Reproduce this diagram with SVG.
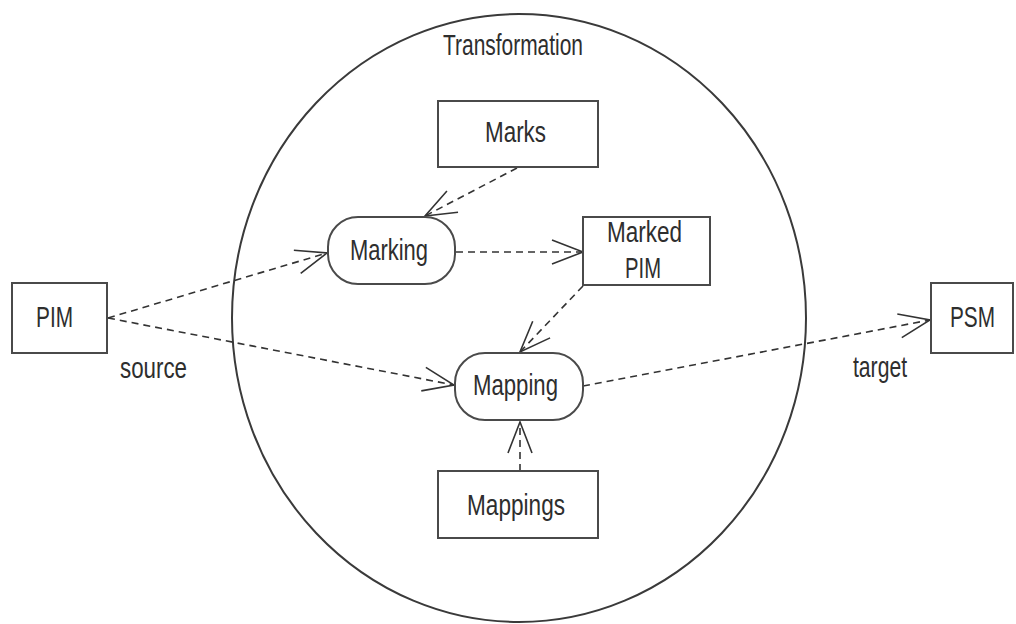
<svg xmlns="http://www.w3.org/2000/svg" width="1016" height="624" viewBox="0 0 1016 624">
<defs>
<style>
.box{fill:#fff;stroke:#4a4a4a;stroke-width:2}
.t{font-family:"Liberation Sans",Arial,sans-serif;font-size:30px;fill:#2e2e2e}
.c{fill:none;stroke:#333;stroke-width:1.6;stroke-dasharray:7 5}
</style>
<marker id="arr" markerUnits="userSpaceOnUse" viewBox="-2 -14 36 28" markerWidth="36" markerHeight="28" refX="31" refY="0" orient="auto">
<path d="M0,-12 L31,0 L0,12" fill="none" stroke="#333" stroke-width="1.6"/>
</marker>
</defs>
<rect width="1016" height="624" fill="#fff"/>
<g id="transformation">
<ellipse cx="519" cy="318" rx="287" ry="304" fill="none" stroke="#3a3a3a" stroke-width="2"/>
<text class="t" x="443" y="55" textLength="140" lengthAdjust="spacingAndGlyphs">Transformation</text>
</g>
<g id="connectors">
<path class="c" d="M517,168 L425,216" marker-end="url(#arr)"/>
<path class="c" d="M108,318 L327,253" marker-end="url(#arr)"/>
<path class="c" d="M456,252 L583,252" marker-end="url(#arr)"/>
<path class="c" d="M583,286 L520,352" marker-end="url(#arr)"/>
<path class="c" d="M108,318 L454,385" marker-end="url(#arr)"/>
<path class="c" d="M583,386 L930,320" marker-end="url(#arr)"/>
<path class="c" d="M520,471 L520,422" marker-end="url(#arr)"/>
</g>
<g id="pim">
<rect class="box" x="12" y="283" width="95" height="70"/>
<text class="t" x="36" y="327" textLength="37" lengthAdjust="spacingAndGlyphs">PIM</text>
</g>
<g id="psm">
<rect class="box" x="931" y="283" width="82" height="70"/>
<text class="t" x="950" y="327" textLength="45" lengthAdjust="spacingAndGlyphs">PSM</text>
</g>
<g id="marks">
<rect class="box" x="438" y="101" width="160" height="66"/>
<text class="t" x="485" y="142" textLength="61" lengthAdjust="spacingAndGlyphs">Marks</text>
</g>
<g id="marking">
<rect class="box" x="328" y="217" width="127" height="67" rx="30" ry="30"/>
<text class="t" x="350" y="260" textLength="78" lengthAdjust="spacingAndGlyphs">Marking</text>
</g>
<g id="marked-pim">
<rect class="box" x="583" y="217" width="127" height="68"/>
<text class="t" x="607" y="242" textLength="75" lengthAdjust="spacingAndGlyphs">Marked</text>
<text class="t" x="625" y="278" textLength="36" lengthAdjust="spacingAndGlyphs">PIM</text>
</g>
<g id="mapping">
<rect class="box" x="455" y="353" width="128" height="67" rx="30" ry="30"/>
<text class="t" x="473" y="395" textLength="85" lengthAdjust="spacingAndGlyphs">Mapping</text>
</g>
<g id="mappings">
<rect class="box" x="438" y="471" width="160" height="67"/>
<text class="t" x="467" y="515" textLength="98" lengthAdjust="spacingAndGlyphs">Mappings</text>
</g>
<g id="labels">
<text class="t" x="120" y="378" textLength="67" lengthAdjust="spacingAndGlyphs">source</text>
<text class="t" x="853" y="377" textLength="54" lengthAdjust="spacingAndGlyphs">target</text>
</g>
</svg>
